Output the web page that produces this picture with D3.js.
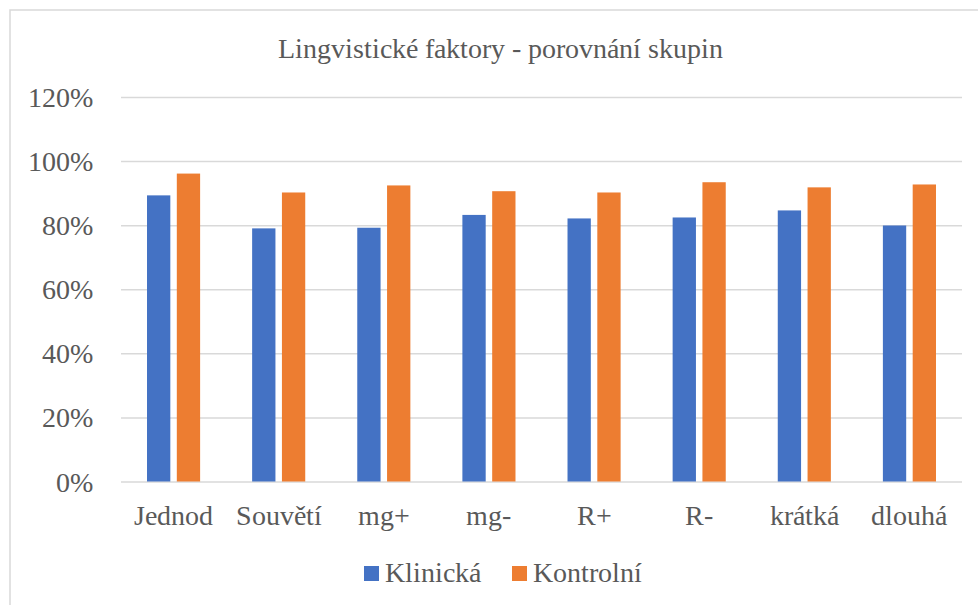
<!DOCTYPE html>
<html><head><meta charset="utf-8"><script src="https://cdn.jsdelivr.net/npm/d3@7"></script>
<style>
@font-face {
  font-family: "ChartSerif";
  src: local("Liberation Serif"), local("LiberationSerif"), local("LiberationSerif-Regular"), local("Times New Roman"), local("Tinos");
}
</style>
</head>
<body style="margin:0">
<script>
// chart data
var categories = ["Jednod", "Souvětí", "mg+", "mg-", "R+", "R-", "krátká", "dlouhá"];
var seriesNames = ["Klinická", "Kontrolní"];
var klinicka = [0.893, 0.790, 0.792, 0.832, 0.821, 0.824, 0.846, 0.799];
var kontrolni = [0.961, 0.902, 0.924, 0.906, 0.902, 0.934, 0.918, 0.927];
var yTicks = [0, 0.2, 0.4, 0.6, 0.8, 1.0, 1.2];
var colors = ["#4472C4", "#ED7D31"];

var serifFont = "ChartSerif, 'Liberation Serif', 'Times New Roman', Tinos, serif";

var svgWidth = 978, svgHeight = 605;
var margin = { top: 97, bottom: 123.5, left: 121, right: 16 };
var width = svgWidth - margin.left - margin.right;
var height = svgHeight - margin.top - margin.bottom;

var svg = d3.select("body").append("svg")
  .attr("width", svgWidth)
  .attr("height", svgHeight)
  .style("font-family", serifFont);

// outer chart border, only top and left edges fall inside the frame
svg.append("rect")
  .attr("x", 10).attr("y", 10)
  .attr("width", 990).attr("height", 620)
  .attr("fill", "none")
  .attr("stroke", "#d9d9d9")
  .attr("stroke-width", 1.5);

svg.append("text")
  .attr("x", 500).attr("y", 57.5)
  .attr("text-anchor", "middle")
  .style("font-family", serifFont)
  .style("font-size", "28px")
  .attr("fill", "#595959")
  .text("Lingvistické faktory - porovnání skupin");

var chartGroup = svg.append("g")
  .attr("transform", `translate(${margin.left}, ${margin.top})`);

var yScale = d3.scaleLinear().domain([0, 1.2]).range([height, 0]);
var x0 = d3.scaleBand().domain(categories).range([0, width]);
var x1 = d3.scaleBand().domain(seriesNames)
  .range([x0.bandwidth() / 2 - 26.55, x0.bandwidth() / 2 + 26.55])
  .paddingInner(0.218);

// gridlines + y labels
var yAxis = chartGroup.append("g")
  .call(d3.axisLeft(yScale).tickValues(yTicks).tickSize(-width).tickFormat(d3.format(".0%")));
yAxis.attr("font-family", null);
yAxis.select(".domain").remove();
yAxis.selectAll("line").attr("stroke", "#d9d9d9").attr("stroke-width", 1.5);
yAxis.selectAll("text")
  .attr("x", -28)
  .attr("dy", "0.34em")
  .style("font-family", serifFont)
  .style("font-size", "28px")
  .attr("fill", "#595959");

// bars
var rows = categories.map(function(c, i) {
  return { cat: c, values: [klinicka[i], kontrolni[i]] };
});

var groups = chartGroup.selectAll(".cat")
  .data(rows)
  .enter()
  .append("g")
  .attr("transform", d => `translate(${x0(d.cat)}, 0)`);

groups.selectAll("rect")
  .data(d => d.values.map((v, j) => ({ name: seriesNames[j], value: v, color: colors[j] })))
  .enter()
  .append("rect")
  .attr("x", d => x1(d.name))
  .attr("y", d => yScale(d.value))
  .attr("width", x1.bandwidth())
  .attr("height", d => height - yScale(d.value))
  .attr("fill", d => d.color);

// x labels
var xAxis = chartGroup.append("g")
  .attr("transform", `translate(0, ${height})`)
  .call(d3.axisBottom(x0).tickSize(0));
xAxis.attr("font-family", null);
xAxis.select(".domain").remove();
xAxis.selectAll("text")
  .attr("y", 43.5)
  .attr("dy", 0)
  .style("font-family", serifFont)
  .style("font-size", "28px")
  .attr("fill", "#595959");

// legend
var legendX = [364, 512];
var legend = svg.selectAll(".legend")
  .data(seriesNames)
  .enter()
  .append("g")
  .attr("transform", (d, i) => `translate(${legendX[i]}, 566)`);
legend.append("rect")
  .attr("width", 15).attr("height", 15)
  .attr("fill", (d, i) => colors[i]);
legend.append("text")
  .attr("x", 21).attr("y", 15.5)
  .style("font-family", serifFont)
  .style("font-size", "28px")
  .attr("fill", "#595959")
  .text(d => d);
</script></body></html>
